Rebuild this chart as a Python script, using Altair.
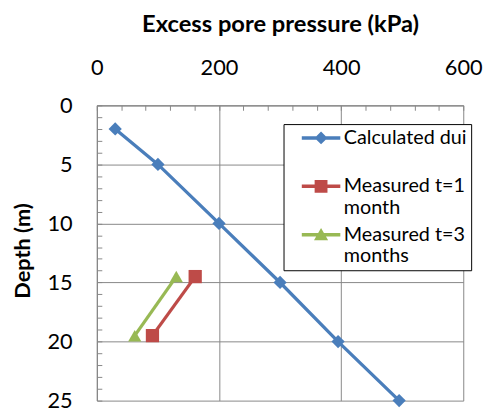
import altair as alt
import pandas as pd

series_names = ["Calculated dui", "Measured t=1 month", "Measured t=3 months"]
calc_pressure = [30, 100, 200, 300, 395, 495]
calc_depth = [2, 5, 10, 15, 20, 25]
m1_pressure = [161, 91]
m1_depth = [14.5, 19.5]
m3_pressure = [130, 62]
m3_depth = [14.5, 19.5]
x_ticks = [0, 200, 400, 600]
y_ticks = [0, 5, 10, 15, 20, 25]
x_minor = list(range(0, 601, 40))
y_minor = list(range(0, 26, 1))
colors = ["#4A7EBB", "#BE4B48", "#98B954"]
marker_shapes = ["diamond", "square", "triangle-up"]

# legend symbols: line segment + marker (unit path, scaled by legend symbol size)
legend_paths = [
    "M-3,-0.27L3,-0.27L3,0.27L-3,0.27Z M0,-1L1,0L0,1L-1,0Z",
    "M-3,-0.27L3,-0.27L3,0.27L-3,0.27Z M-1,-1L1,-1L1,1L-1,1Z",
    "M-3,-0.27L3,-0.27L3,0.27L-3,0.27Z M0,-1.05L1.1,0.85L-1.1,0.85Z",
]

rows = []
for name, xs_, ys_ in zip(series_names, [calc_pressure, m1_pressure, m3_pressure],
                          [calc_depth, m1_depth, m3_depth]):
    for i, (x, y) in enumerate(zip(xs_, ys_)):
        rows.append({"series": name, "pressure": x, "depth": y, "order": i})
df = pd.DataFrame(rows)

FONT = "Lato"
GRAY = "#878787"

xs = alt.Scale(domain=[0, 600], nice=False, zero=False)
ys = alt.Scale(domain=[0, 25], reverse=True, nice=False, zero=False)
cs = alt.Scale(domain=series_names, range=colors)

x_axis = alt.Axis(orient="top", values=x_ticks, grid=True, gridColor=GRAY, gridWidth=1,
                  domain=True, domainColor=GRAY, domainWidth=1.2, ticks=False, tickSize=0,
                  labelFont=FONT, labelFontSize=22, labelColor="black", labelPadding=38,
                  labelBaseline="middle", labelFlush=False,
                  title="Excess pore pressure (kPa)", titleFont=FONT, titleFontSize=24,
                  titleFontWeight="bold", titleColor="black", titleY=-82,
                  titleBaseline="middle")
y_axis = alt.Axis(orient="left", values=y_ticks, grid=True, gridColor=GRAY, gridWidth=1,
                  domain=True, domainColor=GRAY, domainWidth=1.2, ticks=False, tickSize=0,
                  labelFont=FONT, labelFontSize=22, labelColor="black", labelPadding=25,
                  labelBaseline="middle", labelFlush=False,
                  title="Depth (m)", titleFont=FONT, titleFontSize=22, titleFontWeight="bold",
                  titleColor="black", titleX=-75, titleY=147, titleBaseline="middle",
                  titleAngle=270)

x_minor_axis = alt.Axis(orient="top", offset=-5, values=x_minor, labels=False, domain=False,
                        grid=False, ticks=True, tickSize=5, tickColor=GRAY, tickWidth=1,
                        title=None)
y_minor_axis = alt.Axis(orient="left", offset=-5, values=y_minor, labels=False, domain=False,
                        grid=False, ticks=True, tickSize=5, tickColor=GRAY, tickWidth=1,
                        title=None)

legend_def = alt.Legend(
    title=None, orient="none", legendX=189, legendY=19, padding=4,
    fillColor="white", strokeColor="black",
    labelFont=FONT, labelFontSize=20, labelColor="black", labelLimit=400,
    labelExpr="datum.label == 'Calculated dui' ? ['Calculated dui\u00a0\u00a0\u00a0\u00a0\u00a0\u00a0', ' '] : "
              "datum.label == 'Measured t=1 month' ? ['Measured t=1', 'month'] : "
              "['Measured t=3', 'months']",
    symbolSize=169, symbolOpacity=1, symbolStrokeWidth=0, symbolOffset=24,
    labelOffset=13, rowPadding=7,
)

base = alt.Chart(df)

lines = base.mark_line(strokeWidth=3.3).encode(
    x=alt.X("pressure:Q", scale=xs, axis=x_axis),
    y=alt.Y("depth:Q", scale=ys, axis=y_axis),
    color=alt.Color("series:N", scale=cs, legend=None),
    order="order:Q",
)

points = base.mark_point(filled=True, size=180, opacity=1).encode(
    x=alt.X("pressure:Q", scale=xs, axis=None),
    y=alt.Y("depth:Q", scale=ys, axis=None),
    color=alt.Color("series:N", scale=cs, legend=None),
    shape=alt.Shape("series:N", scale=alt.Scale(domain=series_names, range=marker_shapes),
                    legend=None),
)

minor = base.mark_point(opacity=0).encode(
    x=alt.X("pressure:Q", scale=xs, axis=x_minor_axis),
    y=alt.Y("depth:Q", scale=ys, axis=y_minor_axis),
)

legend_layer = base.mark_point(filled=True, opacity=0).encode(
    x=alt.X("pressure:Q", scale=xs, axis=None),
    y=alt.Y("depth:Q", scale=ys, axis=None),
    color=alt.Color("series:N", scale=cs, legend=legend_def),
    shape=alt.Shape("series:N", scale=alt.Scale(domain=series_names, range=legend_paths),
                    legend=legend_def),
)

chart = alt.layer(minor, lines, points, legend_layer).resolve_axis(
    x="independent", y="independent"
).resolve_scale(color="independent", shape="independent").properties(
    width=371, height=299,
    autosize=alt.AutoSizeParams(type="none"),
    padding={"left": 90, "top": 96, "right": 21, "bottom": 10},
    background="white",
).configure_view(stroke=None)

chart.save("out.html", embed_options={"renderer": "svg", "actions": False})
